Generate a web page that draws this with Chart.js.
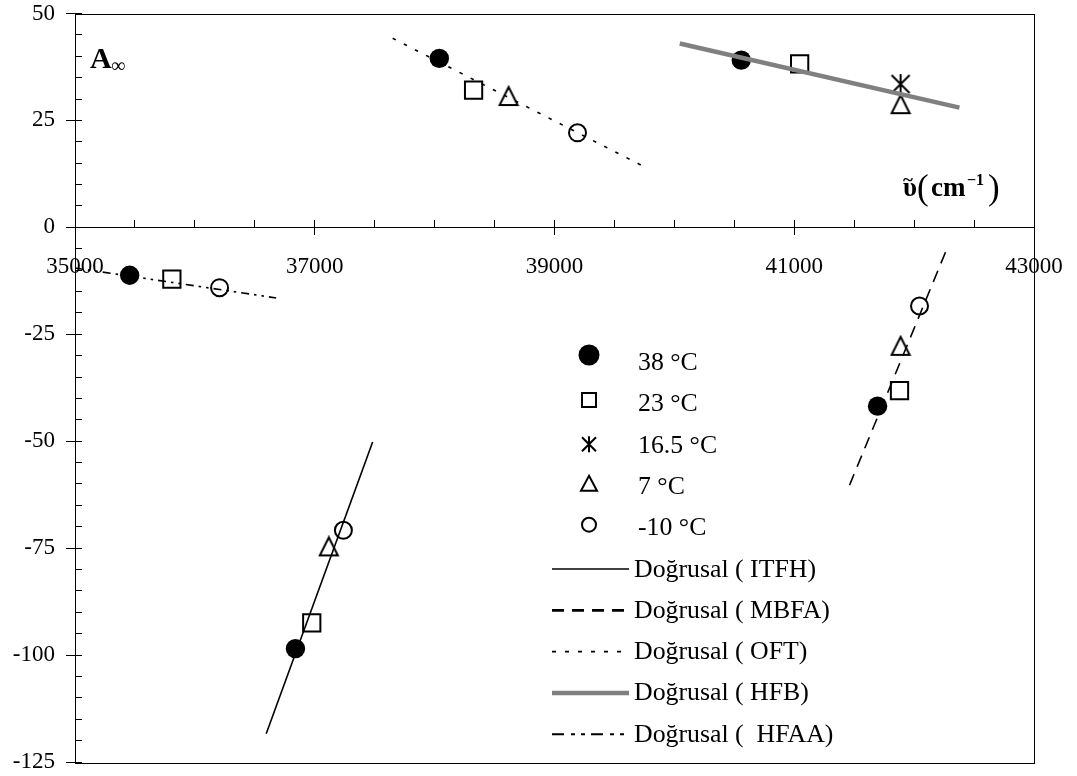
<!DOCTYPE html>
<html>
<head>
<meta charset="utf-8">
<script src="https://cdn.jsdelivr.net/npm/chart.js@4/dist/chart.umd.min.js"></script>
<style>
  body { margin: 0; background: #fff; }
  #wrap { width: 1077px; height: 776px; }
</style>
</head>
<body>
<div id="wrap"><canvas id="graph" width="1077" height="776"></canvas></div>
<script>
// A-infinity against wavenumber
const tempLabels = ['38 °C', '23 °C', '16.5 °C', '7 °C', '-10 °C'];

const x38 = [36839, 41695, 38039, 40558, 35456];
const y38 = [-98.5, -41.8, 39.5, 39.1, -11.2];
const x23 = [36975, 41878, 38325, 41045, 35808];
const y23 = [-92.5, -38.2, 32.1, 38.2, -12.1];
const x16 = [41887];
const y16 = [33.5];
const x7 = [37117, 41887, 38617, 41887];
const y7 = [-74.6, -27.7, 30.7, 28.8];
const xm10 = [37239, 42045, 39192, 36206];
const ym10 = [-70.8, -18.4, 22.1, -14.1];

// linear trend lines, start and end
const fitNames = ['ITFH', 'MBFA', 'OFT', 'HFB', ' HFAA'];
const fitX = [[36595, 37483], [41461, 42275], [37650, 39733], [40045, 42378], [35000, 36678]];
const fitY = [[-118.4, -50.2], [-60.3, -4.9], [44.2, 14.4], [43.0, 28.0], [-9.5, -16.5]];

const xTickVals = [35000, 37000, 39000, 41000, 43000];
const yTickVals = [-125, -100, -75, -50, -25, 0, 25, 50];

const serif = '"Liberation Serif", "Times New Roman", serif';
Chart.defaults.font.family = serif;
Chart.defaults.color = '#000';

function pts(xs, ys) {
  return xs.map((x, i) => ({ x: x, y: ys[i] }));
}

// excel-like triangle and star markers
function markerImage(size, draw) {
  const c = document.createElement('canvas');
  c.width = size; c.height = size;
  const g = c.getContext('2d');
  g.strokeStyle = '#000';
  g.lineWidth = 2;
  draw(g, size);
  return c;
}
const triangleImg = markerImage(22, (g, s) => {
  g.beginPath();
  g.moveTo(s / 2, 2); g.lineTo(s - 2, s - 2); g.lineTo(2, s - 2);
  g.closePath(); g.stroke();
});
const starImg = markerImage(22, (g, s) => {
  g.beginPath();
  g.moveTo(2, 2); g.lineTo(s - 2, s - 2);
  g.moveTo(s - 2, 2); g.lineTo(2, s - 2);
  g.moveTo(s / 2, 1); g.lineTo(s / 2, s - 1);
  g.stroke();
});

const pointSets = [
  { label: tempLabels[0], data: pts(x38, y38), pointStyle: 'circle', pointRadius: 9.7, backgroundColor: '#000', borderColor: '#000', pointBorderWidth: 0 },
  { label: tempLabels[1], data: pts(x23, y23), pointStyle: 'rect', pointRadius: 12.2, backgroundColor: 'rgba(0,0,0,0)', borderColor: '#000', pointBorderWidth: 2 },
  { label: tempLabels[2], data: pts(x16, y16), pointStyle: starImg, pointRadius: 10, backgroundColor: 'rgba(0,0,0,0)', borderColor: '#000' },
  { label: tempLabels[3], data: pts(x7, y7), pointStyle: triangleImg, pointRadius: 10, backgroundColor: 'rgba(0,0,0,0)', borderColor: '#000' },
  { label: tempLabels[4], data: pts(xm10, ym10), pointStyle: 'circle', pointRadius: 8.5, backgroundColor: 'rgba(0,0,0,0)', borderColor: '#000', pointBorderWidth: 2 }
].map(d => Object.assign(d, { showLine: false, order: 1, xAxisID: 'x', yAxisID: 'y' }));

const lineStyles = [
  { color: '#000', width: 1.6, dash: [], legendWidth: 1.6, legendDash: [] },
  { color: '#000', width: 1.6, dash: [12, 8], legendWidth: 2.8, legendDash: [12, 8] },
  { color: '#000', width: 1.6, dash: [3.5, 9], legendWidth: 1.6, legendDash: [4, 9] },
  { color: '#808080', width: 4.5, dash: [], legendWidth: 4.5, legendDash: [] },
  { color: '#000', width: 1.6, dash: [8, 5, 2.5, 5, 2.5, 5], legendWidth: 2, legendDash: [12, 7, 4, 6, 4, 6] }
];

const fitSets = fitNames.map((n, i) => ({
  label: 'Doğrusal (' + ' ' + n + ')',
  data: pts(fitX[i], fitY[i]),
  showLine: true,
  pointRadius: 0,
  borderColor: lineStyles[i].color,
  borderWidth: lineStyles[i].width,
  borderDash: lineStyles[i].dash,
  legendWidth: lineStyles[i].legendWidth,
  legendDash: lineStyles[i].legendDash,
  order: 0,
  xAxisID: 'x',
  yAxisID: 'y'
}));

const framePlugin = {
  id: 'frame',
  beforeDatasetsDraw(chart) {
    const a = chart.chartArea, ctx = chart.ctx;
    ctx.save();
    ctx.strokeStyle = '#000';
    ctx.lineWidth = 1;
    ctx.strokeRect(Math.round(a.left) + 0.5, Math.round(a.top) + 0.5, Math.round(a.right - a.left), Math.round(a.bottom - a.top));
    ctx.restore();
  }
};

function legendMarker(ctx, kind, x, y) {
  ctx.beginPath();
  if (kind === 0) {
    ctx.arc(x, y, 10.5, 0, Math.PI * 2); ctx.fill();
  } else if (kind === 1) {
    ctx.strokeRect(x - 7, y - 7, 14, 14);
  } else if (kind === 2) {
    ctx.moveTo(x - 7, y - 7); ctx.lineTo(x + 7, y + 7);
    ctx.moveTo(x + 7, y - 7); ctx.lineTo(x - 7, y + 7);
    ctx.moveTo(x, y - 8); ctx.lineTo(x, y + 8);
    ctx.stroke();
  } else if (kind === 3) {
    ctx.moveTo(x, y - 7.5); ctx.lineTo(x + 8, y + 7.5); ctx.lineTo(x - 8, y + 7.5);
    ctx.closePath(); ctx.stroke();
  } else {
    ctx.arc(x, y, 7, 0, Math.PI * 2); ctx.stroke();
  }
}

const legendPlugin = {
  id: 'sideLegend',
  afterDraw(chart) {
    const ctx = chart.ctx;
    const markerY = [355, 400, 444.2, 483.3, 524.7];
    ctx.save();
    ctx.fillStyle = '#000';
    ctx.strokeStyle = '#000';
    ctx.font = '25.8px ' + serif;
    ctx.textBaseline = 'alphabetic';
    chart.data.datasets.forEach((ds, i) => {
      const base = 370 + 41.3 * i;
      if (!ds.showLine) {
        ctx.lineWidth = 2;
        ctx.setLineDash([]);
        legendMarker(ctx, i, 589, markerY[i]);
        ctx.fillText(ds.label, 638, base);
      } else {
        ctx.lineWidth = ds.legendWidth;
        ctx.strokeStyle = ds.borderColor;
        ctx.setLineDash(ds.legendDash);
        ctx.beginPath();
        ctx.moveTo(552, base - 7.5);
        ctx.lineTo(629, base - 7.5);
        ctx.stroke();
        ctx.strokeStyle = '#000';
        ctx.setLineDash([]);
        ctx.fillText(ds.label, 634, base);
      }
    });
    ctx.restore();
  }
};

const titlePlugin = {
  id: 'axisTitles',
  afterDraw(chart) {
    const ctx = chart.ctx;
    ctx.save();
    ctx.fillStyle = '#000';
    ctx.textBaseline = 'alphabetic';
    ctx.font = 'bold 30px ' + serif;
    ctx.fillText('A', 90, 68);
    ctx.font = '20px ' + serif;
    ctx.fillText('∞', 111, 72);

    ctx.font = 'bold 27px ' + serif;
    ctx.fillText('υ', 903, 196);
    ctx.font = 'bold 19px ' + serif;
    ctx.fillText('~', 903, 186);
    ctx.font = '35px ' + serif;
    ctx.fillText('(', 917, 199);
    ctx.font = 'bold 27px ' + serif;
    ctx.fillText('cm', 931, 196);
    ctx.font = 'bold 16px ' + serif;
    ctx.fillText('\u22121', 967, 185);
    ctx.font = '35px ' + serif;
    ctx.fillText(')', 988, 199);
    ctx.restore();
  }
};

// keep label overflow from shrinking the plot area
const xFit = s => { s.height = 0; s.paddingLeft = 0; s.paddingRight = 0; };
const yFit = s => { s.paddingTop = 0; s.paddingBottom = 0; };

new Chart(document.getElementById('graph'), {
  type: 'scatter',
  data: { datasets: pointSets.concat(fitSets) },
  options: {
    responsive: false,
    animation: false,
    devicePixelRatio: 1,
    layout: { autoPadding: false, padding: { top: 13.5, right: 43, bottom: 14, left: 0 } },
    plugins: {
      legend: { display: false },
      tooltip: { enabled: false }
    },
    scales: {
      x: {
        type: 'linear',
        position: { y: 0 },
        min: 35000,
        max: 43000,
        afterBuildTicks: s => { s.ticks = xTickVals.map(v => ({ value: v })); },
        ticks: { font: { size: 23 }, padding: 19, maxRotation: 0, autoSkip: false, callback: v => String(v) },
        grid: { drawOnChartArea: false, tickLength: 7, tickColor: '#000', tickWidth: 1 },
        border: { color: '#000', width: 1 },
        afterFit: xFit
      },
      x2: {
        type: 'linear',
        position: { y: 0 },
        min: 35000,
        max: 43000,
        ticks: { display: false, stepSize: 500, maxTicksLimit: 100 },
        grid: { drawOnChartArea: false, tickLength: -7, tickColor: '#000', tickWidth: 1 },
        border: { display: false },
        afterFit: xFit
      },
      y: {
        type: 'linear',
        position: 'left',
        min: -125,
        max: 50,
        afterBuildTicks: s => { s.ticks = yTickVals.map(v => ({ value: v })); },
        ticks: { font: { size: 23 }, padding: 11, autoSkip: false, callback: v => String(v) },
        grid: { drawOnChartArea: false, tickLength: 9, tickColor: '#000', tickWidth: 1 },
        border: { color: '#000', width: 1 },
        afterFit: s => { s.width = 75; yFit(s); }
      },
      y2: {
        type: 'linear',
        position: { x: 35000 },
        min: -125,
        max: 50,
        ticks: { display: false, stepSize: 5, maxTicksLimit: 100 },
        grid: { drawOnChartArea: false, tickLength: -7, tickColor: '#000', tickWidth: 1 },
        border: { display: false },
        afterFit: s => { s.width = 0; yFit(s); }
      }
    }
  },
  plugins: [framePlugin, legendPlugin, titlePlugin]
});
</script>
</body>
</html>
